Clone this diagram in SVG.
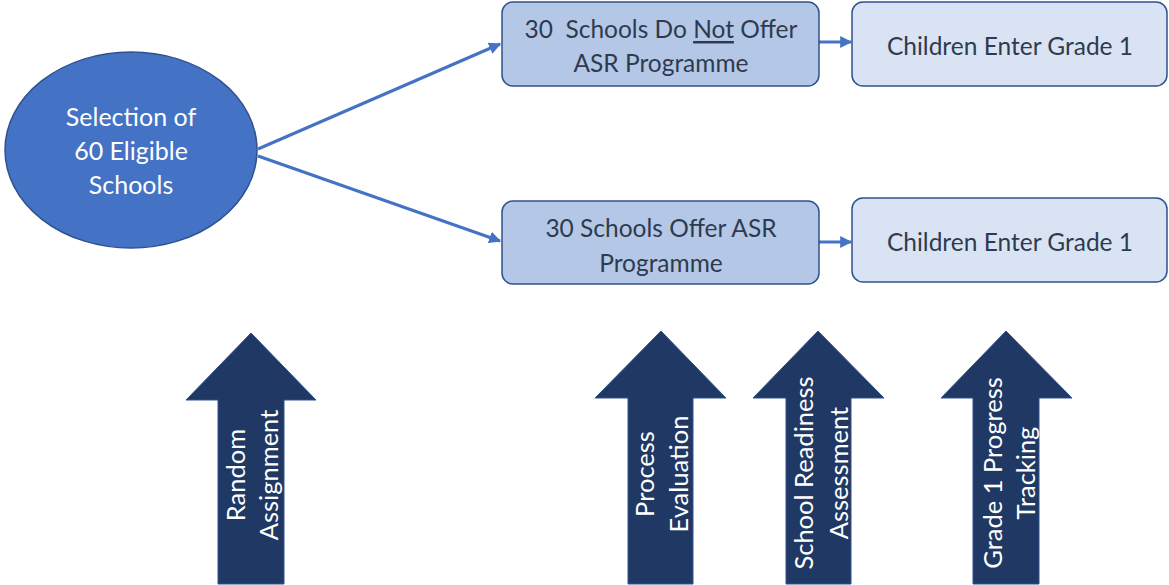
<svg xmlns="http://www.w3.org/2000/svg" width="1169" height="585" viewBox="0 0 1169 585">
<style>
.box1{fill:#B4C7E7;stroke:#2F528F;stroke-width:1.5}
.box2{fill:#DAE3F3;stroke:#2F528F;stroke-width:1.5}
.t{font-family:Lato,"Liberation Sans",sans-serif;font-size:24.5px;fill:#2E3B4E;text-anchor:middle;dominant-baseline:central}
.w{font-family:Lato,"Liberation Sans",sans-serif;font-size:25px;fill:#FFFFFF;text-anchor:middle;dominant-baseline:central}
.a{font-size:25.5px}
.up{fill:#203864;stroke:#2F528F;stroke-width:1}
.con{stroke:#4472C4;stroke-width:3;fill:none}
</style>
<defs>
<marker id="ah" viewBox="0 0 10 10" refX="9" refY="5" markerWidth="4" markerHeight="4" orient="auto" markerUnits="strokeWidth">
<path d="M0,0 L10,5 L0,10 z" fill="#4472C4"/>
</marker>
</defs>
<g id="connectors">
<line class="con" x1="258" y1="149" x2="500" y2="44" marker-end="url(#ah)"/>
<line class="con" x1="258" y1="156" x2="500" y2="241" marker-end="url(#ah)"/>
<line class="con" x1="819" y1="42" x2="851" y2="42" marker-end="url(#ah)"/>
<line class="con" x1="819" y1="242" x2="851" y2="242" marker-end="url(#ah)"/>
</g>
<g id="selection">
<ellipse cx="131" cy="150" rx="126" ry="98" fill="#4472C4" stroke="#2F528F" stroke-width="1.5"/>
<text class="w" x="131" y="116">Selection of</text>
<text class="w" x="131" y="150">60 Eligible</text>
<text class="w" x="131" y="184">Schools</text>
</g>
<g id="no-offer">
<rect class="box1" x="502" y="2" width="317" height="84" rx="11"/>
<text class="t" x="661" y="28" xml:space="preserve">30  Schools Do <tspan text-decoration="underline">Not</tspan> Offer</text>
<text class="t" x="661" y="62">ASR Programme</text>
</g>
<g id="children-top">
<rect class="box2" x="852" y="2" width="315" height="84" rx="11"/>
<text class="t" x="1010" y="45">Children Enter Grade 1</text>
</g>
<g id="offer">
<rect class="box1" x="502" y="201" width="317" height="83" rx="11"/>
<text class="t" x="661" y="227">30 Schools Offer ASR</text>
<text class="t" x="661" y="262">Programme</text>
</g>
<g id="children-bottom">
<rect class="box2" x="852" y="198" width="315" height="84" rx="11"/>
<text class="t" x="1010" y="241">Children Enter Grade 1</text>
</g>
<g id="random-assignment">
<polygon class="up" points="251,333 316,400 284,400 284,584 218,584 218,400 186,400"/>
<g transform="translate(251,475) rotate(-90)">
<text class="w a" x="0" y="-16">Random</text>
<text class="w a" x="0" y="17">Assignment</text>
</g>
</g>
<g id="process-evaluation">
<polygon class="up" points="661,331 726,398 693,398 693,584 628,584 628,398 595,398"/>
<g transform="translate(661,474) rotate(-90)">
<text class="w a" x="0" y="-17">Process</text>
<text class="w a" x="0" y="17">Evaluation</text>
</g>
</g>
<g id="school-readiness">
<polygon class="up" points="818,331 884,398 851,398 851,584 786,584 786,398 753,398"/>
<g transform="translate(820,473) rotate(-90)">
<text class="w a" x="0" y="-17">School Readiness</text>
<text class="w a" x="0" y="18">Assessment</text>
</g>
</g>
<g id="grade1-tracking">
<polygon class="up" points="1006,331 1072,398 1039,398 1039,584 973,584 973,398 941,398"/>
<g transform="translate(1008,473) rotate(-90)">
<text class="w a" x="0" y="-16">Grade 1 Progress</text>
<text class="w a" x="0" y="17">Tracking</text>
</g>
</g>
</svg>
